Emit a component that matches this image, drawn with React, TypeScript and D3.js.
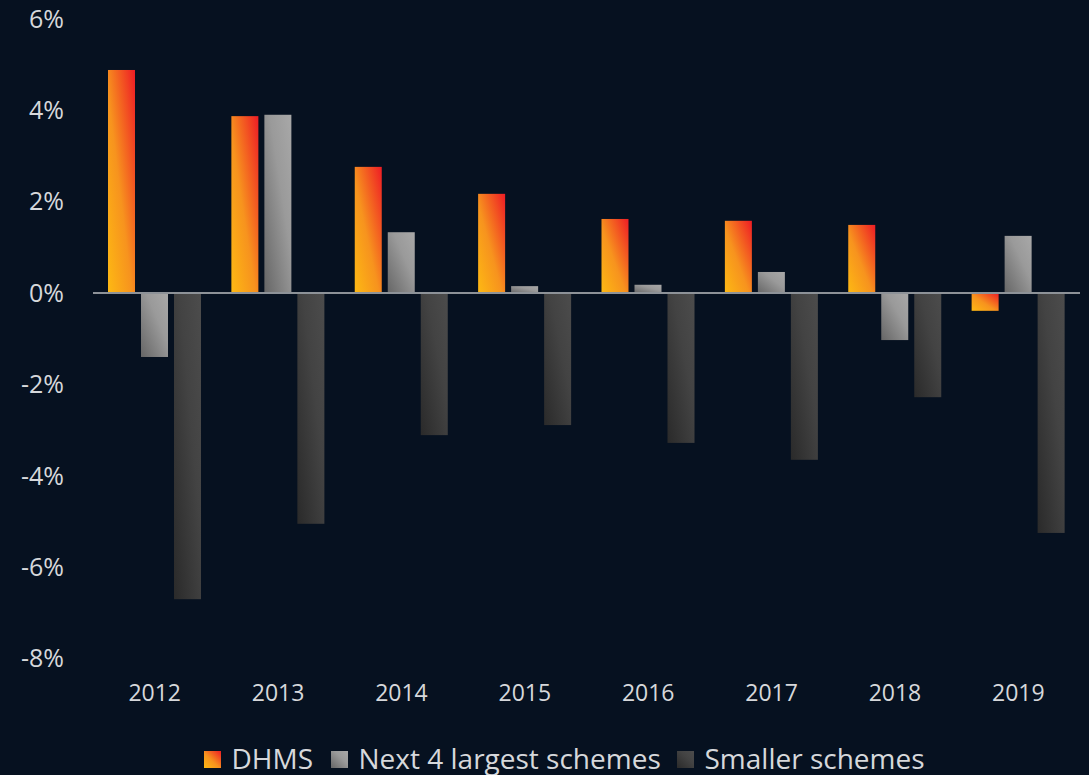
import React from "react";
import * as d3 from "d3";

const years = ["2012", "2013", "2014", "2015", "2016", "2017", "2018", "2019"];
const dhms = [4.88, 3.87, 2.76, 2.17, 1.62, 1.58, 1.49, -0.39];
const next4 = [-1.4, 3.9, 1.33, 0.15, 0.18, 0.46, -1.03, 1.25];
const smaller = [-6.7, -5.05, -3.11, -2.89, -3.28, -3.65, -2.28, -5.25];
const yTicks = [6, 4, 2, 0, -2, -4, -6, -8];
const seriesNames = ["DHMS", "Next 4 largest schemes", "Smaller schemes"];

const W = 1089;
const H = 775;
const BG = "#061120";
const TEXT = "#d6d8db";

export default function App() {
  const x = d3.scaleBand<string>().domain(years).range([93, 1080]).paddingInner(0).paddingOuter(0);
  const y = d3.scaleLinear().domain([-8, 6]).range([658.6, 18.8]);
  const inner = d3.scaleBand<number>().domain([0, 1, 2]).range([15, 15 + 33 * 3 - 6]).paddingInner(6 / 33).paddingOuter(0);
  const series = [dhms, next4, smaller];
  const grads = ["gDhms", "gNext", "gSmall"];
  const starts = [204, 331, 677];

  return (
    <div style={{ position: "fixed", left: 0, top: 0, background: BG, width: W, height: H }}>
      <svg width={W} height={H} style={{ display: "block", fontFamily: "'Open Sans', sans-serif" }}>
        <defs>
          <linearGradient id="gDhms" x1="0" y1="1" x2="1" y2="0">
            <stop offset="0" stopColor="#fdb913" />
            <stop offset="0.45" stopColor="#f7931e" />
            <stop offset="1" stopColor="#ee1c25" />
          </linearGradient>
          <linearGradient id="gNext" x1="0" y1="1" x2="1" y2="0">
            <stop offset="0" stopColor="#666666" />
            <stop offset="0.6" stopColor="#9a9a9a" />
            <stop offset="1" stopColor="#a8a8a8" />
          </linearGradient>
          <linearGradient id="gSmall" x1="0" y1="1" x2="1" y2="0">
            <stop offset="0" stopColor="#2a2a2a" />
            <stop offset="0.6" stopColor="#434343" />
            <stop offset="1" stopColor="#4c4c4c" />
          </linearGradient>
        </defs>
        <rect x={0} y={0} width={W} height={H} fill={BG} />
        {yTicks.map((t) => (
          <text key={t} x={64} y={y(t)} dy="0.35em" textAnchor="end" fontSize={25} fill={TEXT}>
            {t}%
          </text>
        ))}
        {years.map((yr, i) => (
          <g key={yr} transform={`translate(${x(yr)},0)`}>
            {series.map((s, k) => {
              const v = s[i];
              const y0 = y(0);
              const y1 = y(v);
              return (
                <rect
                  key={k}
                  x={inner(k)}
                  width={inner.bandwidth()}
                  y={Math.min(y0, y1)}
                  height={Math.abs(y1 - y0)}
                  fill={`url(#${grads[k]})`}
                />
              );
            })}
            <text x={x.bandwidth() / 2} y={693} dy="0.35em" textAnchor="middle" fontSize={23} fill={TEXT}>
              {yr}
            </text>
          </g>
        ))}
        <line x1={93} x2={1080} y1={y(0)} y2={y(0)} stroke="#8d9298" strokeWidth={2} />
        {seriesNames.map((n, k) => (
          <g key={n} transform={`translate(${starts[k]},0)`}>
            <rect x={0} y={751} width={17} height={17} fill={`url(#${grads[k]})`} />
            <text x={27.5} y={759} dy="0.35em" fontSize={28} fill={TEXT}>
              {n}
            </text>
          </g>
        ))}
      </svg>
    </div>
  );
}
